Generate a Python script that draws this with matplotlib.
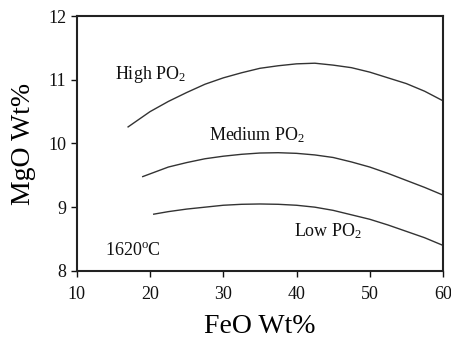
import matplotlib
matplotlib.use("Agg")
import matplotlib.pyplot as plt

# === Data ===
high_x = [17, 20, 22.5, 25, 27.5, 30, 32.5, 35, 37.5, 40, 42.5, 45, 47.5, 50, 52.5, 55, 57.5, 60]
high_y = [10.26, 10.50, 10.66, 10.80, 10.93, 11.03, 11.11, 11.18, 11.22, 11.25, 11.26, 11.23,
          11.19, 11.12, 11.03, 10.94, 10.82, 10.67]

med_x = [19, 22.5, 25, 27.5, 30, 32.5, 35, 37.5, 40, 42.5, 45, 47.5, 50, 52.5, 55, 57.5, 60]
med_y = [9.48, 9.63, 9.70, 9.76, 9.80, 9.83, 9.85, 9.855, 9.845, 9.82, 9.78, 9.71, 9.63,
         9.53, 9.42, 9.31, 9.19]

low_x = [20.5, 22.5, 25, 27.5, 30, 32.5, 35, 37.5, 40, 42.5, 45, 47.5, 50, 52.5, 55, 57.5, 60]
low_y = [8.89, 8.93, 8.97, 9.00, 9.03, 9.045, 9.05, 9.045, 9.03, 9.00, 8.95, 8.88, 8.81,
         8.72, 8.62, 8.52, 8.40]

x_ticks = [10, 20, 30, 40, 50, 60]
y_ticks = [8, 9, 10, 11, 12]

plt.rcParams["font.family"] = ["Liberation Serif", "DejaVu Serif"]
plt.rcParams["mathtext.fontset"] = "custom"
plt.rcParams["mathtext.rm"] = "Liberation Serif"
plt.rcParams["mathtext.it"] = "Liberation Serif:italic"

fig = plt.figure(figsize=(4.52, 3.42), dpi=100)
ax = fig.add_axes([0.170, 0.208, 0.810, 0.745])

line_kw = dict(color="#333333", linewidth=1.0)
ax.plot(high_x, high_y, **line_kw)
ax.plot(med_x, med_y, **line_kw)
ax.plot(low_x, low_y, **line_kw)

txt = dict(fontsize=13, va="center", ha="left", color="#111111")
ax.text(15.2, 11.08, r"High PO$_2$", **txt)
ax.text(28.0, 10.13, r"Medium PO$_2$", **txt)
ax.text(39.6, 8.62, r"Low PO$_2$", **txt)
ax.text(13.8, 8.32, r"1620$^{\rm o}$C", **txt)

ax.set_xlim(10, 60)
ax.set_ylim(8, 12)
ax.set_xticks(x_ticks)
ax.set_yticks(y_ticks)
ax.tick_params(direction="out", length=4, width=1, labelsize=13, colors="#111111")
ax.tick_params(axis="x", pad=7)

for s in ax.spines.values():
    s.set_linewidth(1.5)
    s.set_color("#222222")

ax.set_xlabel("FeO Wt%", fontsize=20, labelpad=8)
ax.set_ylabel("MgO Wt%", fontsize=20, labelpad=9)

fig.savefig("out.png", dpi=100)
